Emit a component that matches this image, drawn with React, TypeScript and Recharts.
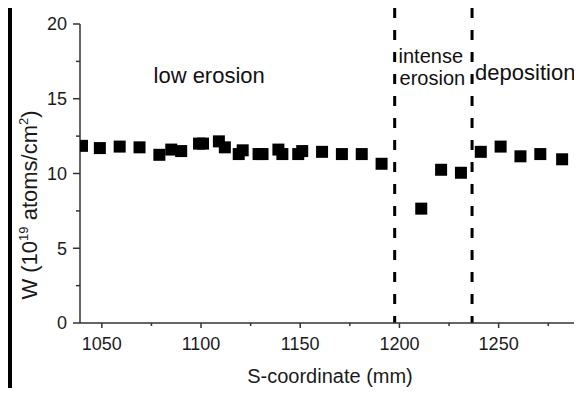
import React from 'react';
import { ScatterChart, Scatter, XAxis, YAxis, ReferenceLine, Label } from 'recharts';

const sCoord = [1040, 1049, 1059, 1069, 1079, 1085, 1090, 1099, 1101, 1109, 1112, 1119, 1121, 1129, 1131, 1139, 1141, 1149, 1151, 1161, 1171, 1181, 1191, 1211, 1221, 1231, 1241, 1251, 1261, 1271, 1282];
const wValues = [11.85, 11.7, 11.8, 11.75, 11.25, 11.6, 11.5, 12.0, 12.0, 12.15, 11.75, 11.3, 11.55, 11.3, 11.3, 11.6, 11.3, 11.3, 11.5, 11.45, 11.3, 11.3, 10.65, 7.65, 10.25, 10.05, 11.45, 11.8, 11.15, 11.3, 10.95];

const xTicks = [1050, 1075, 1100, 1125, 1150, 1175, 1200, 1225, 1250, 1275];
const yTicks = [0, 2.5, 5, 7.5, 10, 12.5, 15, 17.5, 20];
const boundaries = [1197.6, 1236.6];

const regionLabels = ['low erosion', 'intense', 'erosion', 'deposition'];
const regionLabelX = [1104.1, 1215.8, 1216.6, 1263.4];
const regionLabelY = [16.03, 17.42, 15.92, 16.25];
const regionLabelSize = [22, 20, 20, 22];

const points = sCoord.map((s, i) => ({ s, w: wValues[i] }));
const annotations = regionLabels.map((t, i) => ({ s: regionLabelX[i], w: regionLabelY[i], t, fs: regionLabelSize[i] }));

const FONT = '"Liberation Sans", Arial, sans-serif';
const AXIS = '#333';

const XTick = (props: any) => {
  const { x, y, payload } = props;
  const major = payload.value % 50 === 0;
  return (
    <g>
      <line x1={x} x2={x} y1={y} y2={y + (major ? 5 : 3)} stroke={AXIS} strokeWidth={1.5} />
      {major && (
        <text x={x} y={y + 27} textAnchor="middle" fontSize={18} fontFamily={FONT} fill="#1a1a1a">
          {payload.value}
        </text>
      )}
    </g>
  );
};

const YTick = (props: any) => {
  const { x, y, payload } = props;
  const major = payload.value % 5 === 0;
  return (
    <g>
      <line x1={x} x2={x - (major ? 7 : 4)} y1={y} y2={y} stroke={AXIS} strokeWidth={1.5} />
      {major && (
        <text x={x - 13} y={y} dy="0.36em" textAnchor="end" fontSize={18} fontFamily={FONT} fill="#1a1a1a">
          {payload.value}
        </text>
      )}
    </g>
  );
};

const YLabel = () => (
  <text
    x={29}
    y={197}
    transform="rotate(-90, 29, 197)"
    textAnchor="middle"
    fontSize={22}
    fontFamily={FONT}
    fill="#1a1a1a"
  >
    <tspan>W  (10</tspan>
    <tspan dy={-9} fontSize={13}>19</tspan>
    <tspan dy={9}> atoms/cm</tspan>
    <tspan dy={-9} fontSize={13}>2</tspan>
    <tspan dy={9}>)</tspan>
  </text>
);

const XLabel = () => (
  <text x={322} y={375} textAnchor="middle" fontSize={20} fontFamily={FONT} fill="#1a1a1a">
    S-coordinate (mm)
  </text>
);

const SquareShape = (props: any) => {
  const { cx, cy } = props;
  return <rect x={cx - 6} y={cy - 6} width={12} height={12} fill="#000" />;
};

const TextShape = (props: any) => {
  const { cx, cy, payload } = props;
  return (
    <text x={cx} y={cy} textAnchor="middle" fontSize={payload.fs} fontFamily={FONT} fill="#111">
      {payload.t}
    </text>
  );
};

export default function App() {
  return (
    <div style={{ position: 'relative', width: 574, height: 388 }}>
      <div style={{ position: 'absolute', left: 0, top: 0, width: 4, height: 380, background: '#000' }} />
      <ScatterChart width={574} height={388} margin={{ top: 16, right: 4, bottom: 0, left: 0 }}>
        <XAxis
          type="number"
          dataKey="s"
          domain={[1039, 1290]}
          ticks={xTicks}
          interval={0}
          tickSize={0}
          tickMargin={0}
          tickLine={false}
          tick={<XTick />}
          height={73}
          axisLine={{ stroke: AXIS, strokeWidth: 1.5 }}
          allowDataOverflow
        >
          <Label content={<XLabel />} />
        </XAxis>
        <YAxis
          type="number"
          dataKey="w"
          domain={[0, 20]}
          ticks={yTicks}
          interval={0}
          tickSize={0}
          tickMargin={0}
          tickLine={false}
          tick={<YTick />}
          width={72}
          axisLine={{ stroke: AXIS, strokeWidth: 1.5 }}
          allowDataOverflow
        >
          <Label content={<YLabel />} />
        </YAxis>
        {boundaries.map((b) => (
          <ReferenceLine
            key={b}
            segment={[{ x: b, y: 21.07 }, { x: b, y: 0 }]}
            stroke="#000"
            strokeWidth={3}
            strokeDasharray="10 12"
            ifOverflow="visible"
          />
        ))}
        <Scatter data={points} shape={<SquareShape />} isAnimationActive={false} />
        <Scatter data={annotations} shape={<TextShape />} isAnimationActive={false} />
      </ScatterChart>
    </div>
  );
}
